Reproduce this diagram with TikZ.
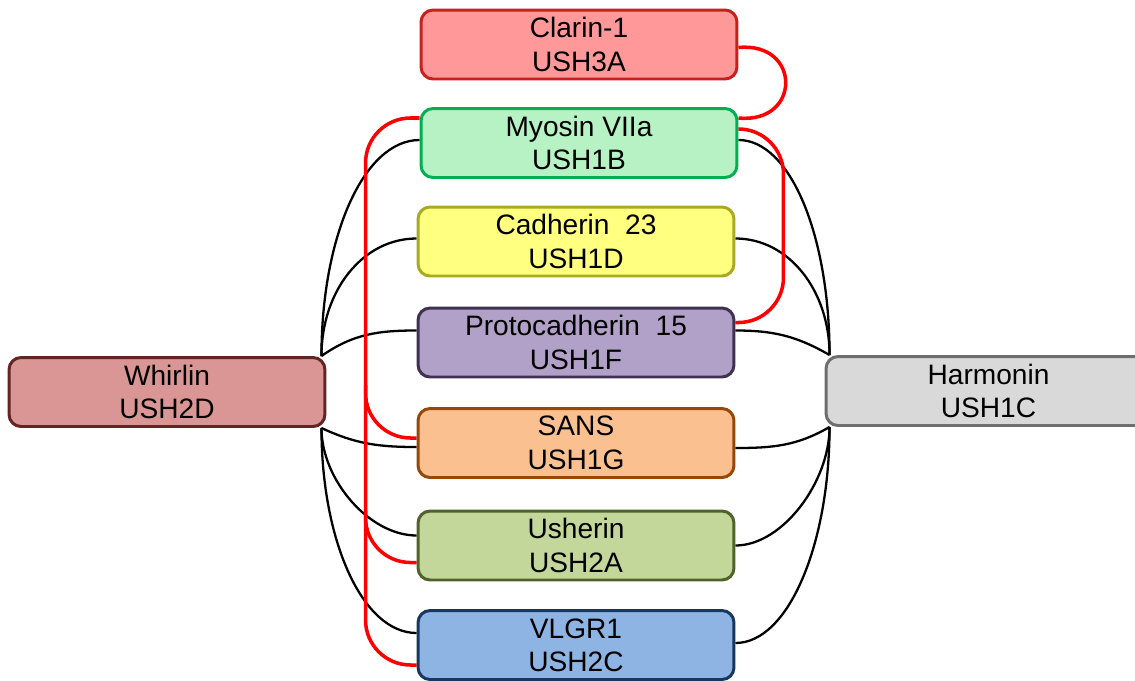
\documentclass[tikz,border=0pt]{standalone}
\usepackage{fontspec}
\setmainfont{Liberation Sans}
\usepackage{xcolor}
\usetikzlibrary{calc,backgrounds}

\definecolor{claFill}{HTML}{FF9999}\definecolor{claLine}{HTML}{C8201C}
\definecolor{myoFill}{HTML}{B6F2C4}\definecolor{myoLine}{HTML}{00B050}
\definecolor{cadFill}{HTML}{FFFF80}\definecolor{cadLine}{HTML}{A8AA20}
\definecolor{pcdFill}{HTML}{B1A0C7}\definecolor{pcdLine}{HTML}{403152}
\definecolor{sanFill}{HTML}{FAC08F}\definecolor{sanLine}{HTML}{974806}
\definecolor{ushFill}{HTML}{C4D79B}\definecolor{ushLine}{HTML}{4F6228}
\definecolor{vlgFill}{HTML}{8DB4E2}\definecolor{vlgLine}{HTML}{17375E}
\definecolor{whiFill}{HTML}{DA9694}\definecolor{whiLine}{HTML}{632523}
\definecolor{harFill}{HTML}{D9D9D9}\definecolor{harLine}{HTML}{6E6E6E}

\begin{document}
\begin{tikzpicture}[x=0.02cm, y=-0.02cm,
	font=\fontsize{16}{19}\selectfont,
	gene/.style={draw=#1Line, fill=#1Fill, line width=1.7pt, rounded corners=0.24cm,
		minimum width=6.32cm, minimum height=1.38cm, inner sep=0pt, align=center},
	blink/.style={black, line width=1.3pt},
	rlink/.style={red, line width=2pt, rounded corners=0.9cm}]
	\useasboundingbox (0,0) rectangle (1135,680);

	\node[gene=cla] (cla) at (579,44.5) {Clarin-1\\USH3A};
	\node[gene=myo] (myo) at (579,143) {Myosin VIIa\\USH1B};
	\node[gene=cad] (cad) at (576,241.5) {Cadherin\ \ 23\\USH1D};
	\node[gene=pcd] (pcd) at (576,342.5) {Protocadherin\ \ 15\\USH1F};
	\node[gene=san] (san) at (576,443) {SANS\\USH1G};
	\node[gene=ush] (ush) at (576,545.5) {Usherin\\USH2A};
	\node[gene=vlg] (vlg) at (576,645) {VLGR1\\USH2C};
	\node[gene=whi] (whi) at (167,392) {Whirlin\\USH2D};
	\node[gene=har, minimum width=6.5cm] (har) at (988.5,391) {Harmonin\\USH1C};

	\coordinate (whiUp) at ($(whi.north east)+(-5,0)$);
	\coordinate (whiDn) at ($(whi.south east)+(-5,0)$);
	\coordinate (harUp) at ($(har.north west)+(5,0)$);
	\coordinate (harDn) at ($(har.south west)+(5,0)$);

	\begin{scope}[on background layer]
	% Whirlin links
	\draw[blink] (whiUp) .. controls +(0,-119) and +(-56,0) .. ($(myo.west)+(0,-3)$);
	\draw[blink] (whiUp) .. controls +(0,-65) and +(-54,0) .. ($(cad.west)+(0,-3)$);
	\draw[blink] (whiUp) to[out=35, in=180] ($(pcd.west)+(0,-12)$);
	\draw[blink] (whiDn) to[out=-25, in=180] ($(san.west)+(0,4)$);
	\draw[blink] (whiDn) .. controls +(0,52) and +(-47,0) .. ($(ush.west)+(0,-10)$);
	\draw[blink] (whiDn) .. controls +(0,113) and +(-54,0) .. ($(vlg.west)+(0,-12)$);
	% Harmonin links
	\draw[blink] ($(myo.east)+(0,-3)$) .. controls +(52,0) and +(0,-119) .. (harUp);
	\draw[blink] ($(cad.east)+(0,-3)$) .. controls +(53,0) and +(0,-65) .. (harUp);
	\draw[blink] ($(pcd.east)+(0,-12)$) to[out=0, in=150] (harUp);
	\draw[blink] ($(san.east)+(0,5)$) to[out=0, in=-150] (harDn);
	\draw[blink] (ush.east) .. controls +(47,0) and +(0,55) .. (harDn);
	\draw[blink] ($(vlg.east)+(0,-2)$) .. controls +(53,0) and +(0,117) .. (harDn);
	% Myosin VIIa links
	\draw[rlink] ($(cla.east)+(0,3)$) .. controls +(63,-6) and +(63,6) .. ($(myo.east)+(0,-25)$);
	\draw[rlink] ($(myo.east)+(0,-14)$) -- ++(45,0) |- ($(pcd.east)+(0,-20)$);
	\draw[rlink] ($(myo.west)+(0,-25)$) -- ++(-54,0) |- ($(vlg.west)+(0,20)$);
	\draw[rlink] ($(san.west)+(-51,-58)$) |- ($(san.west)+(0,-5)$);
	\draw[rlink] ($(ush.west)+(-51,-35)$) |- ($(ush.west)+(0,17)$);
	\end{scope}
\end{tikzpicture}
\end{document}
